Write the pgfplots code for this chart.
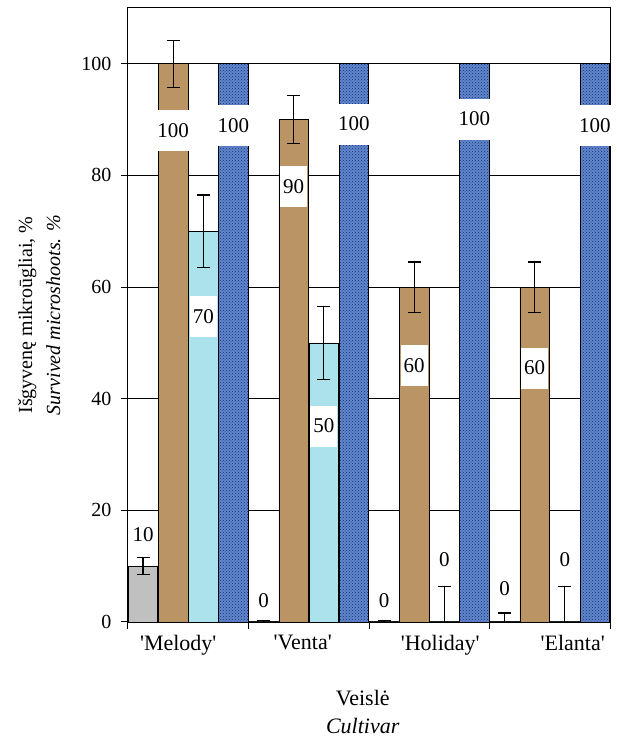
\documentclass[border=0pt]{standalone}
\usepackage{pgfplots}
\pgfplotsset{compat=1.18}
\usepackage{fontspec}
\setmainfont{Liberation Serif}
\usetikzlibrary{patterns}
\definecolor{cgray}{RGB}{192,192,192}
\definecolor{cbrown}{RGB}{186,148,100}
\definecolor{ccyan}{RGB}{172,226,236}
\definecolor{cblue}{RGB}{96,134,204}
\definecolor{cnavy}{RGB}{25,45,115}
\pgfplotsset{
  mybar/.style={ybar, bar width=0.245, bar shift=0, draw=black, line width=0.8pt},
  myerr/.style={draw=none, mark=none, forget plot,
    error bars/.cd, y dir=both, y explicit,
    error bar style={black, line width=1.2pt, solid},
    error mark=|,
    error mark options={black, line width=1.2pt, mark size=6.5pt, solid}},
}
\begin{document}
\begin{tikzpicture}[x=1pt,y=1pt]
\useasboundingbox (-128,-116) rectangle (488,622);
\begin{axis}[
  at={(0,0)}, anchor=south west, scale only axis,
  width=482pt, height=614pt,
  xmin=-0.5, xmax=3.5, ymin=0, ymax=110,
  ytick={0,20,40,60,80,100},
  ymajorgrids, grid style={black, line width=0.8pt},
  axis line style={black, line width=1pt},
  tick style={black, line width=1pt},
  tick align=outside, ytick pos=left, xtick pos=bottom,
  major tick length=7pt,
  xtick={-0.5,0.5,1.5,2.5,3.5}, xticklabels={},
  extra x ticks={0,1,2,3},
  extra x tick labels={{\kern-20pt\textquotesingle Melody\textquotesingle},{\kern-12pt\textquotesingle Venta\textquotesingle},{\kern22pt\textquotesingle Holiday\textquotesingle},{\kern46pt\textquotesingle Elanta\textquotesingle}},
  extra x tick style={major tick length=0pt},
  xticklabel style={font=\fontsize{22}{26}\selectfont, anchor=north, yshift=-10pt},
  yticklabel style={font=\fontsize{20}{24}\selectfont, xshift=-6pt},
  /pgf/number format/assume math mode=true,
  ylabel={Išgyvenę mikroūgliai, \%\\\textit{Survived microshoots. \%}},
  ylabel style={at={(axis description cs:-0.184,0.5)}, anchor=center, align=center, font=\fontsize{20}{28}\selectfont},
  xlabel={Veislė\\\textit{Cultivar}},
  xlabel style={at={(axis description cs:0.487,0)}, anchor=center, yshift=-90pt, inner sep=1pt, align=center, font=\fontsize{22}{28}\selectfont},
]
% bars (x = group index + offset within group)
\addplot[mybar, fill=cgray]
  coordinates {(-0.375,10) (0.625,0) (1.625,0) (2.625,0)};
\addplot[mybar, fill=cbrown]
  coordinates {(-0.125,100) (0.875,90) (1.875,60) (2.875,60)};
\addplot[mybar, fill=ccyan]
  coordinates {(0.125,70) (1.125,50) (2.125,0) (3.125,0)};
\addplot[mybar, fill=cblue, postaction={pattern=crosshatch dots, pattern color=cnavy}]
  coordinates {(0.375,100) (1.375,100) (2.375,100) (3.375,100)};
% error bars
\addplot[myerr] coordinates {(-0.375,10) +- (0,1.5) (0.625,0) +- (0,0.2) (1.625,0) +- (0,0.2) (2.625,0) +- (0,1.6)};
\addplot[myerr] coordinates {(-0.125,100) +- (0,4.2) (0.875,90) +- (0,4.3) (1.875,60) +- (0,4.5) (2.875,60) +- (0,4.5)};
\addplot[myerr] coordinates {(0.125,70) +- (0,6.5) (1.125,50) +- (0,6.5) (2.125,0) +- (0,6.4) (3.125,0) +- (0,6.4)};
% value labels
\addplot[draw=none, mark=none, nodes near coords, point meta=explicit symbolic,
  every node near coord/.append style={anchor=center, fill=white, inner xsep=3pt, inner ysep=0pt, minimum height=41pt, font=\fontsize{21}{24}\selectfont}]
  coordinates {(-0.375,15.7)[10] (-0.125,88.0)[100] (0.125,54.7)[70] (0.375,88.9)[100]
    (0.875,78.0)[90] (1.125,35.1)[50] (1.375,89.2)[100]
    (1.875,45.9)[60] (2.375,90.1)[100]
    (2.875,45.5)[60] (3.375,88.9)[100]};
\addplot[draw=none, mark=none, nodes near coords, point meta=explicit symbolic,
  every node near coord/.append style={anchor=center, inner sep=0pt, font=\fontsize{21}{24}\selectfont}]
  coordinates {(0.625,3.9)[0] (1.625,3.9)[0] (2.125,11.1)[0] (2.625,6.0)[0] (3.125,11.1)[0]};
\end{axis}
\end{tikzpicture}
\end{document}
